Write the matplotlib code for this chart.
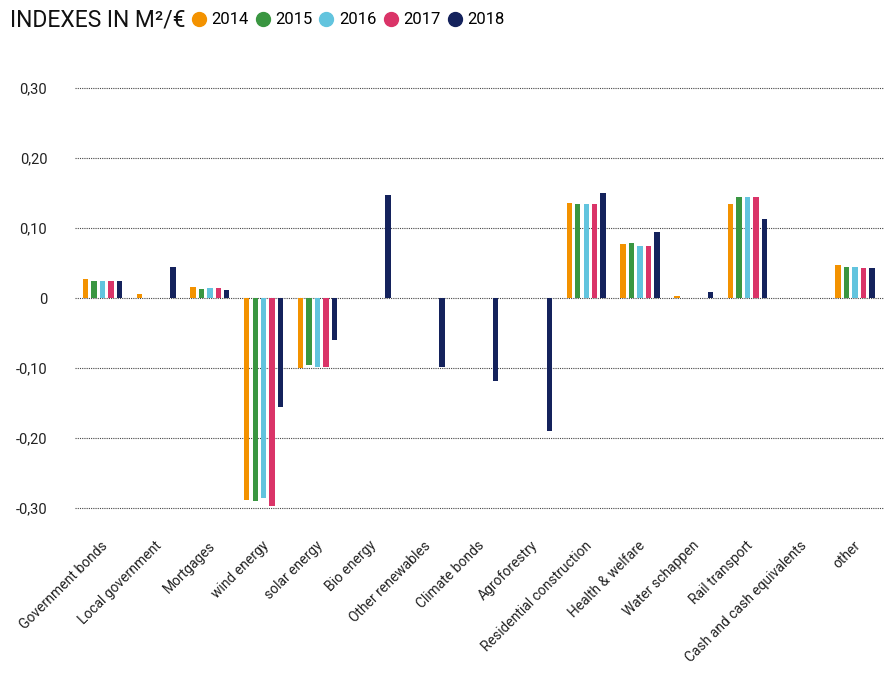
import matplotlib
matplotlib.use("Agg")
import matplotlib.pyplot as plt
from matplotlib.lines import Line2D
import numpy as np

# ---- data ----
categories = ["Government bonds", "Local government", "Mortgages", "wind energy",
              "solar energy", "Bio energy", "Other renewables", "Climate bonds",
              "Agroforestry", "Residential construction", "Health & welfare",
              "Water schappen", "Rail transport", "Cash and cash equivalents", "other"]
years = ["2014", "2015", "2016", "2017", "2018"]

v2014 = [0.027, 0.006, 0.016, -0.289, -0.100, 0, 0, 0, 0, 0.136, 0.077, 0.003, 0.135, 0, 0.047]
v2015 = [0.024, 0, 0.013, -0.290, -0.095, 0, 0, 0, 0, 0.135, 0.078, 0, 0.145, 0, 0.044]
v2016 = [0.024, 0, 0.014, -0.285, -0.098, 0, 0, 0, 0, 0.135, 0.075, 0, 0.145, 0, 0.044]
v2017 = [0.024, 0, 0.014, -0.297, -0.098, 0, 0, 0, 0, 0.135, 0.075, 0, 0.145, 0, 0.043]
v2018 = [0.024, 0.044, 0.011, -0.155, -0.060, 0.147, -0.099, -0.119, -0.190, 0.150, 0.095, 0.009, 0.113, 0, 0.043]

colors = ["#F39200", "#3A9641", "#62C4DE", "#DA3468", "#14225C"]
yticks = [-0.3, -0.2, -0.1, 0, 0.1, 0.2, 0.3]
ytick_labels = ["-0,30", "-0,20", "-0,10", "0", "0,10", "0,20", "0,30"]

plt.rcParams["font.family"] = ["Roboto", "DejaVu Sans"]

fig = plt.figure(figsize=(8.84, 6.75), dpi=100)
ax = fig.add_axes([75 / 884, 0.2422, 1 - 75 / 884, 0.6326])

x = np.arange(len(categories))
pitch = 0.157
width = 0.10
series = [v2014, v2015, v2016, v2017, v2018]
for i, (vals, col) in enumerate(zip(series, colors)):
    ax.bar(x + (i - 2) * pitch, vals, width=width, color=col, zorder=3)

ax.set_xlim(-0.51, len(categories) - 1 + 0.54)
ax.set_ylim(-0.305, 0.305)
ax.set_yticks(yticks)
ax.set_yticklabels(ytick_labels, fontsize=10.5, color="#222222")
ax.yaxis.grid(True, color="#444444", linestyle=(0, (1, 1)), linewidth=0.8, zorder=0)
ax.tick_params(axis="y", length=0, pad=20)
ax.set_xticks(x + 0.06)
ax.set_xticklabels(categories, rotation=45, ha="right", va="center",
                   rotation_mode="anchor", fontsize=10, color="#222222")
ax.tick_params(axis="x", length=0, pad=23)
for s in ax.spines.values():
    s.set_visible(False)

# title + legend
fig.text(10 / 884, 1 - 20 / 675, "INDEXES IN M²/€", fontsize=16.5, va="center",
         ha="left", color="#111111")
handles = [Line2D([], [], marker="o", linestyle="none", markersize=10,
                  markerfacecolor=c, markeredgecolor=c) for c in colors]
fig.legend(handles, years, loc="center left", bbox_to_anchor=(182 / 884, 1 - 20 / 675),
           ncol=5, frameon=False, handletextpad=0.25, columnspacing=0.35,
           handlelength=1.0, borderpad=0, prop={"size": 12})

fig.savefig("out.png", dpi=100)
